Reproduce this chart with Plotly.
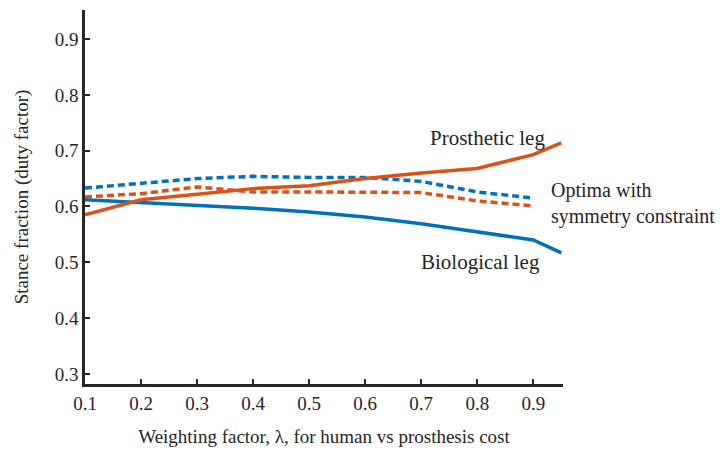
import plotly.graph_objects as go

x_full = [0.1, 0.2, 0.3, 0.4, 0.5, 0.6, 0.7, 0.8, 0.9, 0.95]
prosthetic = [0.585, 0.612, 0.622, 0.632, 0.637, 0.650, 0.660, 0.668, 0.693, 0.714]
biological = [0.612, 0.607, 0.603, 0.597, 0.590, 0.581, 0.569, 0.555, 0.540, 0.517]

x_sym = [0.1, 0.2, 0.3, 0.4, 0.5, 0.6, 0.7, 0.8, 0.9]
sym_bio = [0.633, 0.641, 0.650, 0.654, 0.652, 0.652, 0.645, 0.626, 0.615]
sym_pros = [0.617, 0.623, 0.635, 0.626, 0.626, 0.626, 0.625, 0.610, 0.601]

x_ticks = [0.1, 0.2, 0.3, 0.4, 0.5, 0.6, 0.7, 0.8, 0.9]
y_ticks = [0.3, 0.4, 0.5, 0.6, 0.7, 0.8, 0.9]

BLUE = "#0072BD"
ORANGE = "#D95319"
FONT = "Liberation Serif"
TXT = "#262626"

fig = go.Figure()
fig.add_trace(go.Scatter(x=x_sym, y=sym_bio, mode="lines",
                         line=dict(color=BLUE, width=3.5, dash="7px,4px")))
fig.add_trace(go.Scatter(x=x_sym, y=sym_pros, mode="lines",
                         line=dict(color=ORANGE, width=3.5, dash="7px,4px")))
fig.add_trace(go.Scatter(x=x_full, y=biological, mode="lines",
                         line=dict(color=BLUE, width=3.5)))
fig.add_trace(go.Scatter(x=x_full, y=prosthetic, mode="lines",
                         line=dict(color=ORANGE, width=3.5)))

ann_font = dict(family=FONT, size=21, color=TXT)
fig.add_annotation(x=0.819, y=0.7226, text="Prosthetic leg", showarrow=False, font=ann_font,
                   xanchor="center", yanchor="middle")
fig.add_annotation(x=0.970, xref="paper", y=0.605, text="Optima with<br>symmetry constraint",
                   showarrow=False, font=dict(family=FONT, size=20, color=TXT),
                   xanchor="left", yanchor="middle", align="left")
fig.add_annotation(x=0.805, y=0.500, text="Biological leg", showarrow=False, font=ann_font,
                   xanchor="center", yanchor="middle")

fig.update_layout(
    width=727, height=452,
    margin=dict(l=85, r=164, t=10, b=68),
    paper_bgcolor="white", plot_bgcolor="white",
    showlegend=False,
    font=dict(family=FONT, size=19, color=TXT),
)
fig.update_xaxes(
    range=[0.1, 0.953], tickvals=x_ticks, ticktext=[f"{v:.1f}" for v in x_ticks],
    ticks="inside", ticklen=5, tickwidth=2, tickcolor=TXT, automargin=False,
    showline=True, linecolor=TXT, linewidth=2.5, showgrid=False, zeroline=False,
    title=dict(text="Weighting factor, λ, for human vs prosthesis cost", standoff=18,
               font=dict(family=FONT, size=19, color=TXT)),
    tickfont=dict(family=FONT, size=19, color=TXT),
)
fig.update_yaxes(
    range=[0.282, 0.952], tickvals=y_ticks, ticktext=[f"{v:.1f}" for v in y_ticks],
    ticks="inside", ticklen=5, tickwidth=2, tickcolor=TXT, automargin=False,
    showline=True, linecolor=TXT, linewidth=2.5, showgrid=False, zeroline=False,
    title=dict(text="Stance fraction (duty factor)", standoff=22,
               font=dict(family=FONT, size=19, color=TXT)),
    tickfont=dict(family=FONT, size=19, color=TXT),
)

# remove the browser's default 8px body margin so the figure fills the window exactly
fig.write_html("out.html",
               config={"displayModeBar": False},
               post_script="document.body.style.margin='0';document.body.style.overflow='hidden';")
